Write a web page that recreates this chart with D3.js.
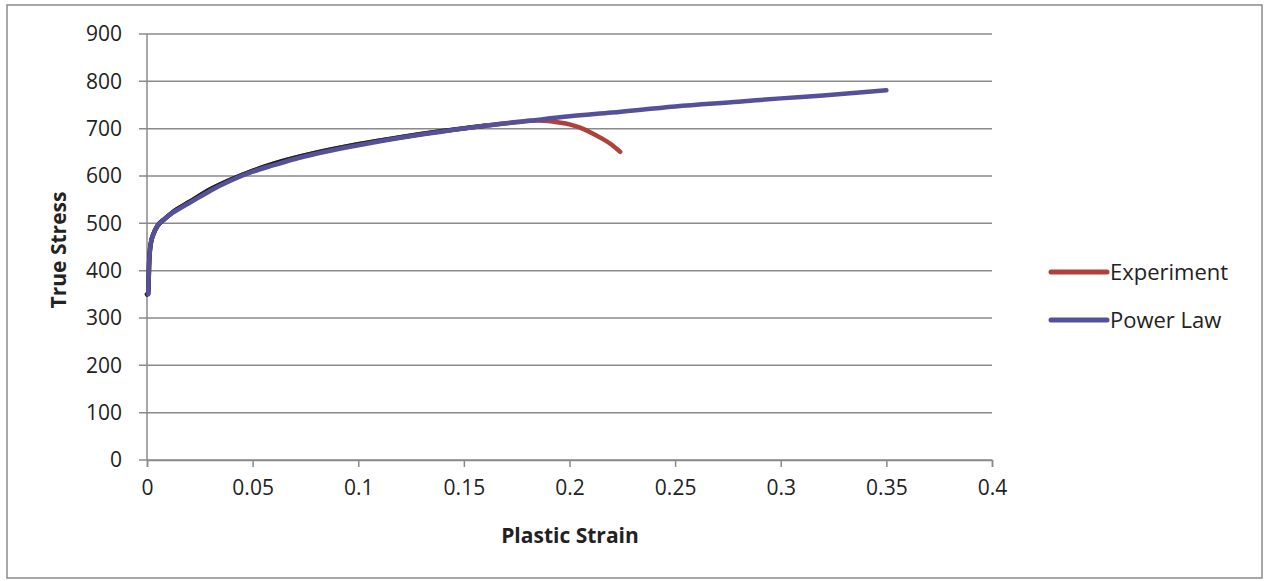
<!DOCTYPE html>
<html><head><meta charset="utf-8">
<script src="https://cdn.jsdelivr.net/npm/d3@7"></script>
<style>body{margin:0;background:#fff;} svg{display:block;font-family:"Open Sans",sans-serif;}</style>
</head><body><svg id="c" width="1264" height="581"></svg>
<script>
const xTicks = [0, 0.05, 0.1, 0.15, 0.2, 0.25, 0.3, 0.35, 0.4];
const yTicks = [0, 100, 200, 300, 400, 500, 600, 700, 800, 900];
const seriesNames = ["Experiment", "Power Law"];
const seriesColors = ["#b0403a", "#54509a"];

const experimentStrain = [0, 0.0006, 0.001, 0.0015, 0.002, 0.003, 0.005, 0.008, 0.012, 0.02, 0.03, 0.04, 0.05, 0.06, 0.08, 0.1, 0.12, 0.14, 0.16, 0.175, 0.185, 0.19, 0.195, 0.2, 0.205, 0.21, 0.215, 0.22, 0.224];
const experimentStress = [350, 352, 415, 448, 462, 477, 495, 508, 523, 545, 572, 593, 611, 626, 649, 667, 682, 695, 706, 714, 717, 716, 713, 709, 702, 692, 680, 666, 651];

const powerStrain = [0.0006, 0.001, 0.0015, 0.002, 0.003, 0.005, 0.008, 0.012, 0.015, 0.02, 0.025, 0.03, 0.04, 0.05, 0.06, 0.07, 0.08, 0.1, 0.12, 0.14, 0.16, 0.18, 0.2, 0.22, 0.25, 0.28, 0.3, 0.32, 0.35];
const powerStress = [350, 415, 448, 462, 477, 495, 508, 522, 530, 543, 556, 569, 591, 609, 623, 636, 647, 665, 681, 694, 706, 716, 726, 734, 747, 757, 764, 770, 781];

const svg = d3.select("#c");
const x = d3.scaleLinear().domain([0, 0.4]).range([147, 992]);
const y = d3.scaleLinear().domain([0, 900]).range([460, 34]);

svg.append("rect").attr("x", 7).attr("y", 5).attr("width", 1255).attr("height", 573)
  .attr("fill", "none").attr("stroke", "#8a8a8a").attr("stroke-width", 1.5);

svg.append("g").selectAll("line").data(yTicks).join("line")
  .attr("x1", 139).attr("x2", 992)
  .attr("y1", d => y(d)).attr("y2", d => y(d))
  .attr("stroke", "#8a8a8a").attr("stroke-width", 1.5);

svg.append("line").attr("x1", x(0)).attr("x2", x(0)).attr("y1", y(900)).attr("y2", y(0))
  .attr("stroke", "#8a8a8a").attr("stroke-width", 1.5);

const xAxis = d3.axisBottom(x).tickValues(xTicks).tickSize(7).tickPadding(10).tickFormat(d => d3.format("")(+d.toFixed(2)));
const gx = svg.append("g").attr("transform", `translate(0,${y(0)})`).call(xAxis);
gx.select(".domain").attr("stroke", "#8a8a8a").attr("stroke-width", 1.5);
gx.selectAll(".tick line").attr("stroke", "#8a8a8a").attr("stroke-width", 1.5);
gx.selectAll(".tick text").attr("font-size", 21).attr("fill", "#222").attr("font-family", "Open Sans").attr("dy", "0.85em");

svg.append("g").selectAll("text").data(yTicks).join("text")
  .attr("x", 122).attr("y", d => y(d)).attr("dy", "0.35em")
  .attr("text-anchor", "end").attr("font-size", 21).attr("fill", "#222").text(d => d);

svg.append("text").attr("transform", "translate(66,250) rotate(-90)").attr("text-anchor", "middle")
  .attr("font-size", 21).attr("font-weight", "bold").attr("fill", "#222").text("True Stress");
svg.append("text").attr("x", 570).attr("y", 543).attr("text-anchor", "middle")
  .attr("font-size", 21).attr("font-weight", "bold").attr("fill", "#222").text("Plastic Strain");

const line = d3.line().x(d => x(d[0])).y(d => y(d[1])).curve(d3.curveMonotoneX);
const expData = experimentStrain.map((s, i) => [s, experimentStress[i]]);
const powData = powerStrain.map((s, i) => [s, powerStress[i]]);

svg.append("path").datum(expData).attr("d", line).attr("fill", "none")
  .attr("stroke", seriesColors[0]).attr("stroke-width", 4.5).attr("stroke-linecap", "round");
svg.append("path").datum(expData.filter(d => d[0] <= 0.16)).attr("d", line).attr("fill", "none")
  .attr("stroke", "#1c1f1c").attr("stroke-width", 4.5).attr("stroke-linecap", "round");
svg.append("path").datum(powData).attr("d", line).attr("fill", "none")
  .attr("stroke", seriesColors[1]).attr("stroke-width", 4.5).attr("stroke-linecap", "round");

const lg = svg.append("g");
seriesNames.forEach((n, i) => {
  const yy = 272 + i * 48;
  lg.append("line").attr("x1", 1051).attr("x2", 1107).attr("y1", yy).attr("y2", yy)
    .attr("stroke", seriesColors[i]).attr("stroke-width", 5).attr("stroke-linecap", "round");
  lg.append("text").attr("x", 1110).attr("y", yy).attr("dy", "0.35em").attr("font-size", 22)
    .attr("fill", "#222").text(n);
});
</script></body></html>
